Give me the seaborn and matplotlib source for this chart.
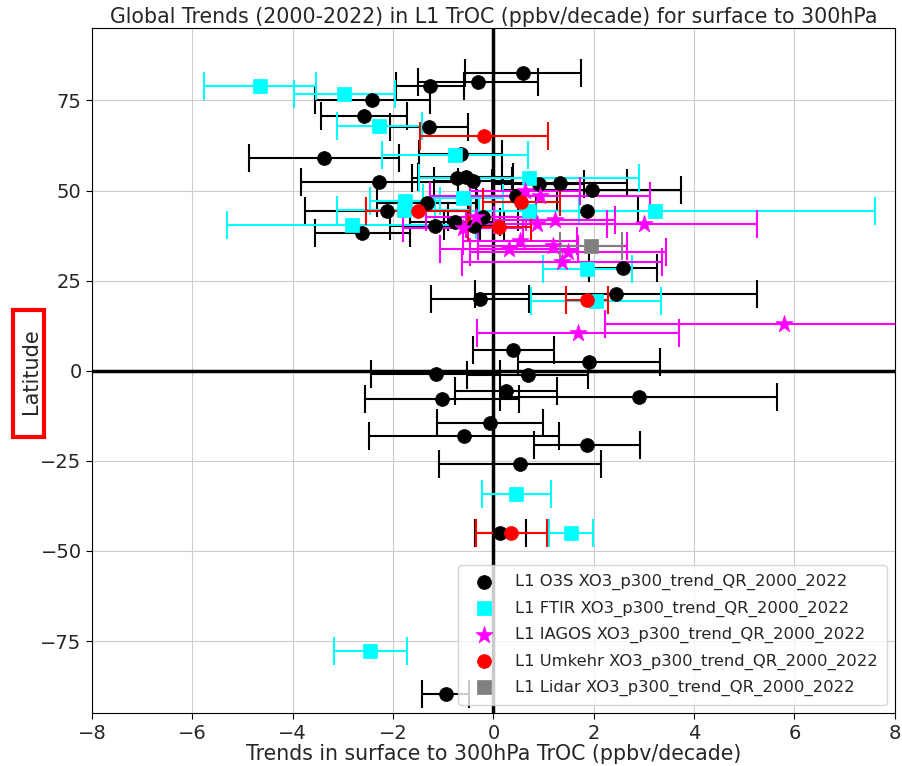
import numpy as np
import pandas as pd
import matplotlib
matplotlib.use("Agg")
import matplotlib.pyplot as plt
import matplotlib.patches as mpatches
import seaborn as sns

# values: trend (ppbv/decade), latitude, half-width of the error bar
o3s_trend = [0.59, -0.31, -1.26, -2.41, -2.58, -1.28, -3.38, -0.65, -2.27, -0.73,
             -0.55, -0.40, 0.91, 1.32, 1.96, 0.46, -1.32, -2.13, 1.86, -0.20,
             -0.77, -0.38, -1.17, -2.61, 2.59, 2.45, -0.27, 0.40, 1.91, -1.15,
             0.68, 0.25, -1.02, 2.90, -0.07, -0.58, 1.87, 0.53, 0.14, -0.95]
o3s_lat = [82.5, 80.2, 79.0, 75.0, 70.6, 67.6, 58.9, 60.2, 52.4, 53.5,
           53.7, 52.6, 51.7, 52.1, 50.1, 48.4, 46.6, 44.3, 44.3, 42.6,
           41.3, 40.1, 40.1, 38.2, 28.5, 21.2, 19.9, 5.8, 2.3, -0.8,
           -1.1, -5.7, -7.8, -7.4, -14.4, -18.1, -20.7, -25.9, -44.9, -89.8]
o3s_err = [1.16, 1.20, 0.68, 1.15, 0.85, 0.78, 1.49, 0.83, 1.56, 0.90,
           0.95, 0.78, 0.90, 1.35, 1.77, 0.80, 1.00, 1.62, 1.02, 0.70,
           0.90, 0.60, 0.90, 0.95, 0.68, 2.81, 0.97, 0.80, 1.41, 1.29,
           1.20, 1.02, 1.54, 2.76, 1.06, 1.89, 1.06, 1.61, 0.51, 0.47]

ftir_trend = [-4.65, -2.97, -2.27, -0.77, 0.71, -0.61, -1.76, -1.78, 0.71, 3.22,
              -2.82, 1.87, 2.05, 0.46, 1.54, -2.45]
ftir_lat = [79.0, 76.7, 67.9, 59.8, 53.5, 48.0, 47.0, 44.5, 44.3, 44.4,
            40.4, 28.3, 19.3, -34.3, -45.1, -77.8]
ftir_err = [1.11, 1.01, 0.85, 1.45, 2.19, 0.80, 0.70, 1.34, 1.00, 4.39,
            2.48, 0.89, 1.30, 0.68, 0.44, 0.72]

iagos_trend = [0.63, 0.93, -0.35, 1.22, 0.86, 3.00, -0.61, 0.53, 1.18, 0.31,
               1.49, 1.37, 5.79, 1.69]
iagos_lat = [49.8, 48.4, 42.6, 41.9, 40.7, 40.6, 39.6, 36.0, 34.6, 33.9,
             33.0, 30.2, 13.1, 10.6]
iagos_err = [1.10, 2.20, 1.00, 1.20, 1.40, 2.25, 1.20, 1.13, 1.48, 1.38,
             1.96, 2.00, 3.56, 2.01]

umkehr_trend = [-0.19, 0.56, -1.50, 0.12, 1.86, 0.36]
umkehr_lat = [65.1, 46.8, 44.3, 39.8, 19.7, -44.9]
umkehr_err = [1.28, 0.76, 1.03, 0.63, 0.42, 0.71]

lidar_trend = [1.94]
lidar_lat = [34.6]
lidar_err = [0.62]

series = [
    ("L1 O3S XO3_p300_trend_QR_2000_2022", o3s_trend, o3s_lat, o3s_err, "black", "o", 100),
    ("L1 FTIR XO3_p300_trend_QR_2000_2022", ftir_trend, ftir_lat, ftir_err, "cyan", "s", 110),
    ("L1 IAGOS XO3_p300_trend_QR_2000_2022", iagos_trend, iagos_lat, iagos_err, "magenta", "*", 170),
    ("L1 Umkehr XO3_p300_trend_QR_2000_2022", umkehr_trend, umkehr_lat, umkehr_err, "red", "o", 100),
    ("L1 Lidar XO3_p300_trend_QR_2000_2022", lidar_trend, lidar_lat, lidar_err, "gray", "s", 110),
]

sns.set_style("whitegrid", {"axes.edgecolor": "black", "grid.color": "#cccccc",
                            "xtick.bottom": True, "ytick.left": True})
plt.rcParams["font.family"] = ["DejaVu Sans"]

fig = plt.figure(figsize=(9.02, 7.66), dpi=100)
ax = fig.add_axes([0.102, 0.069, 0.890, 0.894])

for label, tr, lat, err, color, marker, size in series:
    df = pd.DataFrame({"trend": tr, "lat": lat, "err": err})
    ax.errorbar(df["trend"], df["lat"], xerr=df["err"], fmt="none",
                ecolor=color, elinewidth=1.5, capsize=10, capthick=1.5, zorder=2)
    sns.scatterplot(data=df, x="trend", y="lat", color=color, marker=marker,
                    s=size, edgecolor=color, linewidth=0.5, label=label, ax=ax, zorder=3)

ax.axhline(0, color="black", linewidth=2.5, zorder=1)
ax.axvline(0, color="black", linewidth=2.5, zorder=1)

ax.set_xlim(-8, 8)
ax.set_ylim(-95, 95)
ax.set_xticks(np.arange(-8, 9, 2))
ax.set_yticks([-75, -50, -25, 0, 25, 50, 75])
ax.tick_params(labelsize=14, length=4, color="black")

ax.set_title("Global Trends (2000-2022) in L1 TrOC (ppbv/decade) for surface to 300hPa",
             fontsize=14.8, pad=4)
ax.set_xlabel("Trends in surface to 300hPa TrOC (ppbv/decade)", fontsize=14.8, labelpad=1)
ax.set_ylabel("Latitude", fontsize=15)
ax.yaxis.set_label_coords(-0.064, 0.5)

# red frame round the y label
fig.patches.append(mpatches.Rectangle((0.0140, 0.429), 0.0345, 0.166, transform=fig.transFigure,
                                      facecolor="none", edgecolor="red", linewidth=3))

ax.legend(loc="lower right", fontsize=11.8, handletextpad=0.9, borderpad=0.55,
          labelspacing=0.62, framealpha=0.8)

fig.savefig("out.png", dpi=100)
